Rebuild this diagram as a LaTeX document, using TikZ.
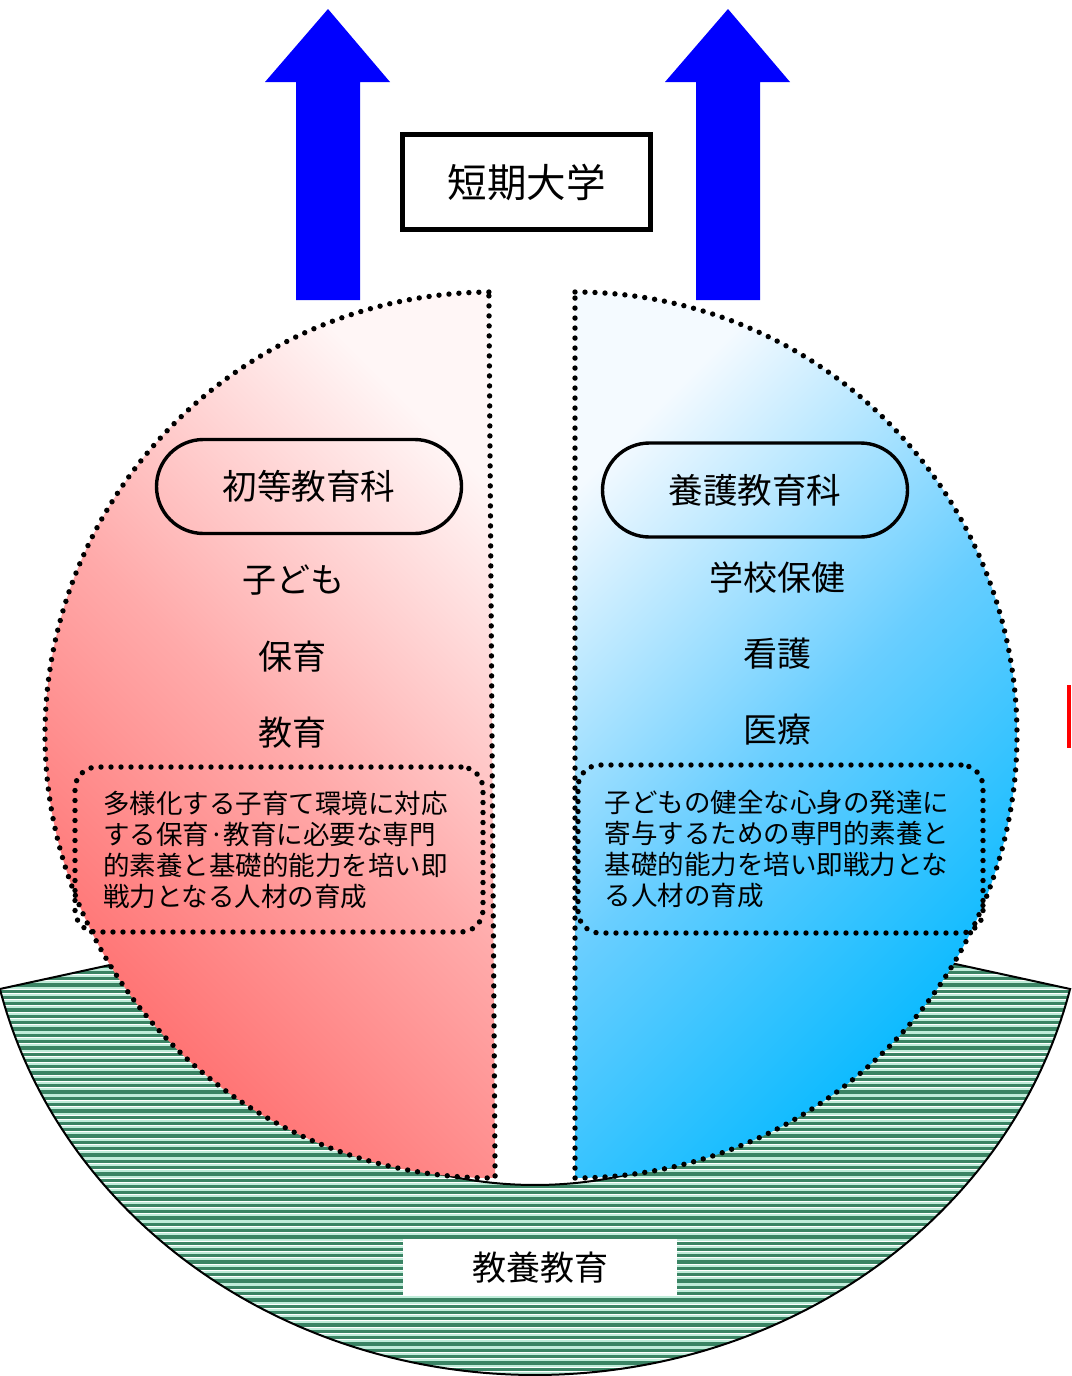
\documentclass[tikz,border=0pt]{standalone}
\usepackage{fontspec}
\setmainfont{Noto Sans CJK JP}
\usetikzlibrary{shapes.misc}
\definecolor{stripedark}{RGB}{58,132,100}
\definecolor{stripelight}{RGB}{192,236,218}
\definecolor{pinklight}{RGB}{255,246,246}
\definecolor{pinkmid}{RGB}{255,170,170}
\definecolor{pinkdark}{RGB}{255,108,108}
\definecolor{bluelight}{RGB}{244,250,255}
\definecolor{bluemid}{RGB}{105,206,255}
\definecolor{bluedark}{RGB}{0,184,255}
\definecolor{arrowblue}{RGB}{0,0,255}
\begin{document}
\begin{tikzpicture}[x=0.5pt,y=-0.5pt,
  dotline/.style={line width=2.7pt,dash pattern=on 0pt off 5pt,line cap=round},
  pill/.style={draw,line width=1.7pt,rounded rectangle,minimum width=152.5pt,minimum height=47pt,inner sep=0pt,font=\fontsize{17.3pt}{20pt}\selectfont},
  itemtext/.style={font=\fontsize{17pt}{20pt}\selectfont,inner sep=0pt},
  descbox/.style={draw,dotline,rounded corners=11pt,align=left,text width=176pt,inner xsep=0pt,font=\fontsize{13.25pt}{15.5pt}\selectfont},
  bigarrow/.style={fill=arrowblue},
  bowlline/.style={line width=1pt}]
\useasboundingbox (0,0) rectangle (1071,1376);

% ---- bowl (liberal arts base) ----
\begin{scope}
  \clip plot[domain=166.64:13.36,samples=160,variable=\t] ({535+550*cos(\t)},{873+502*sin(\t)})
     -- plot[domain=14:166,samples=160,variable=\t] ({535+360*cos(\t)},{873+312*sin(\t)}) -- cycle;
  \fill[white] (0,900) rectangle (1071,1380);
  \foreach \i in {0,...,70}{
    \fill[stripedark] (0,{958+6.3*\i}) rectangle (1071,{961.3+6.3*\i});
    \fill[stripelight] (0,{962.1+6.3*\i}) rectangle (1071,{964.2+6.3*\i});
  }
\end{scope}
\draw[bowlline] plot[domain=166.64:13.36,samples=160,variable=\t] ({535+550*cos(\t)},{873+502*sin(\t)})
     -- plot[domain=14:166,samples=160,variable=\t] ({535+360*cos(\t)},{873+312*sin(\t)}) -- cycle;

% ---- two half discs ----
\shadedraw[top color=pinklight,bottom color=pinkdark,middle color=pinkmid,shading angle=-45,dotline]
  plot[domain=269.6:89.6,samples=200,variable=\t] ({492+447*cos(\t)},{735+443*sin(\t)}) -- cycle;
\shadedraw[top color=bluelight,bottom color=bluedark,middle color=bluemid,shading angle=45,dotline]
  plot[domain=-90:90,samples=200,variable=\t] ({575+442*cos(\t)},{735+443*sin(\t)}) -- cycle;

% ---- arrows ----
\fill[bigarrow] (296,300) -- (296,82) -- (265,82) -- (328,9) -- (390,82) -- (360,82) -- (360,300) -- cycle;
\fill[bigarrow] (696,300) -- (696,82) -- (665,82) -- (728,9) -- (790,82) -- (760,82) -- (760,300) -- cycle;

% ---- title ----
\node[draw,line width=2.8pt,minimum width=124pt,minimum height=47.5pt,inner sep=0pt,
      font=\fontsize{19.75pt}{22pt}\selectfont] (title) at (526.5,182) {短期大学};

% ---- department pills ----
\node[pill] (shoto) at (309,486.5) {初等教育科};
\node[pill] (yogo) at (755,490) {養護教育科};

% ---- keywords ----
\node[itemtext] (kodomo) at (293,580) {子ども};
\node[itemtext] (hoiku) at (292,657) {保育};
\node[itemtext] (kyoiku) at (292,733) {教育};
\node[itemtext] (gakko) at (777,578) {学校保健};
\node[itemtext] (kango) at (777,654) {看護};
\node[itemtext] (iryo) at (777,730) {医療};

% ---- description boxes ----
\node[descbox,minimum width=204pt,minimum height=82.5pt] (ldesc) at (279,849.5)
  {多様化する子育て環境に対応\\する保育·教育に必要な専門\\的素養と基礎的能力を培い即\\戦力となる人材の育成};
\node[descbox,minimum width=202.5pt,minimum height=84pt] (rdesc) at (780.5,849)
  {子どもの健全な心身の発達に\\寄与するための専門的素養と\\基礎的能力を培い即戦力とな\\る人材の育成};

% ---- base label ----
\node[fill=white,minimum width=137pt,minimum height=28.5pt,inner sep=0pt,
      font=\fontsize{17pt}{20pt}\selectfont] (kyoyo) at (540,1267.5) {教養教育};

% ---- red mark at right edge ----
\fill[red] (1067,685) rectangle (1071,748);
\end{tikzpicture}
\end{document}
